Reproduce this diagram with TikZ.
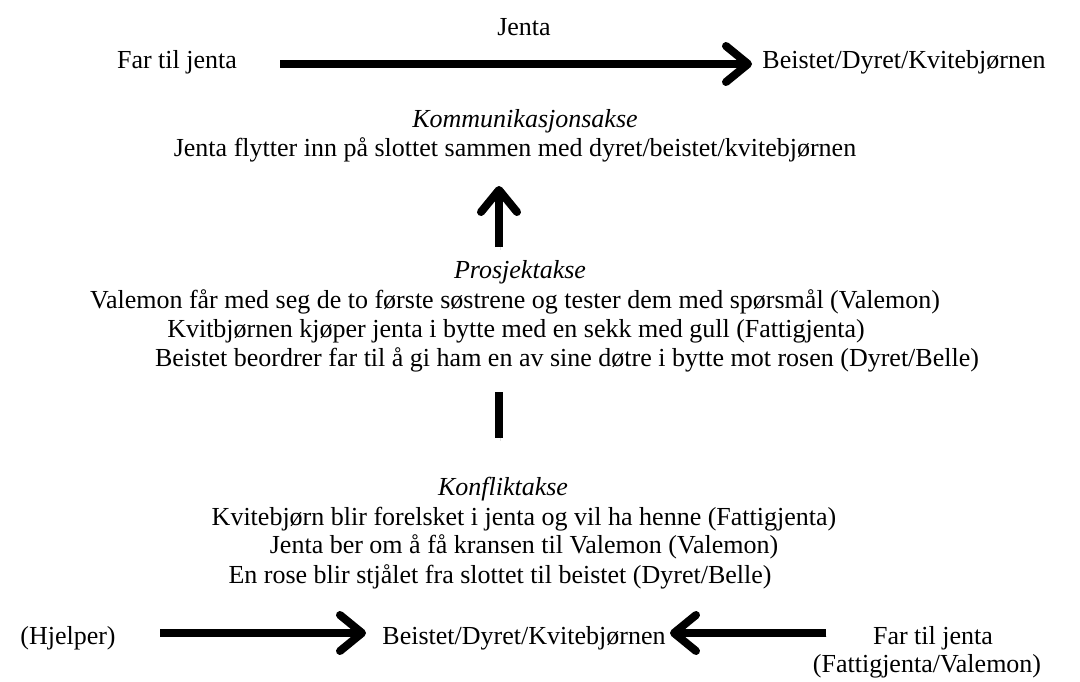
\documentclass[tikz,border=0pt]{standalone}
\usepackage{fontspec}
\setmainfont{Liberation Serif}
\usetikzlibrary{arrows.meta}
\begin{document}
\begin{tikzpicture}[x=1pt,y=-1pt,
  txt/.style={anchor=base,inner sep=0pt,font=\fontsize{26}{30}\selectfont},
  ittxt/.style={anchor=base,inner sep=0pt,font=\fontsize{26}{30}\selectfont\itshape},
  shade/.style={preaction={draw=black!40,opacity=0.3,transform canvas={shift={(1pt,-3pt)}}}},
  bigarrow/.style={line width=8pt, line cap=butt, shade,
     -{Straight Barb[length=22pt,width=36pt,line cap=round,line join=round]}},
  barline/.style={line width=8pt, line cap=butt, shade}]
\useasboundingbox (0,0) rectangle (1080,681);
% top row
\node[txt] (jenta) at (524,35) {Jenta};
\node[txt] (far) at (177,68) {Far til jenta};
\node[txt] (beist) at (904,68) {Beistet/Dyret/Kvitebjørnen};
\coordinate (t1) at (280,64);
\coordinate (t2) at (752,64);
\draw[bigarrow] (t1) -- (t2);
% communication axis
\node[ittxt] (komm) at (525,127) {Kommunikasjonsakse};
\node[txt] (flytt) at (515,156) {Jenta flytter inn på slottet sammen med dyret/beistet/kvitebjørnen};
\coordinate (u1) at (499,247);
\coordinate (u2) at (499,186);
\draw[bigarrow] (u1) -- (u2);
% project axis
\node[ittxt] (prosj) at (520,278) {Prosjektakse};
\node[txt] (p1) at (515,308) {Valemon får med seg de to første søstrene og tester dem med spørsmål (Valemon)};
\node[txt] (p2) at (516,337) {Kvitbjørnen kjøper jenta i bytte med en sekk med gull (Fattigjenta)};
\node[txt] (p3) at (567,366) {Beistet beordrer far til å gi ham en av sine døtre i bytte mot rosen (Dyret/Belle)};
\coordinate (b1) at (499,392);
\coordinate (b2) at (499,438);
\draw[barline] (b1) -- (b2);
% conflict axis
\node[ittxt] (konf) at (503,495) {Konfliktakse};
\node[txt] (k1) at (524,525) {Kvitebjørn blir forelsket i jenta og vil ha henne (Fattigjenta)};
\node[txt] (k2) at (524,553) {Jenta ber om å få kransen til Valemon (Valemon)};
\node[txt] (k3) at (500,583) {En rose blir stjålet fra slottet til beistet (Dyret/Belle)};
% bottom row
\node[txt] (hj) at (68,644) {(Hjelper)};
\node[txt] (beist2) at (524,644) {Beistet/Dyret/Kvitebjørnen};
\node[txt] (far2) at (933,644) {Far til jenta};
\node[txt] (fattig) at (927,672) {(Fattigjenta/Valemon)};
\coordinate (l1) at (160,633);
\coordinate (l2) at (366,633);
\draw[bigarrow] (l1) -- (l2);
\coordinate (r1) at (826,633);
\coordinate (r2) at (670,633);
\draw[bigarrow] (r1) -- (r2);
\end{tikzpicture}
\end{document}
